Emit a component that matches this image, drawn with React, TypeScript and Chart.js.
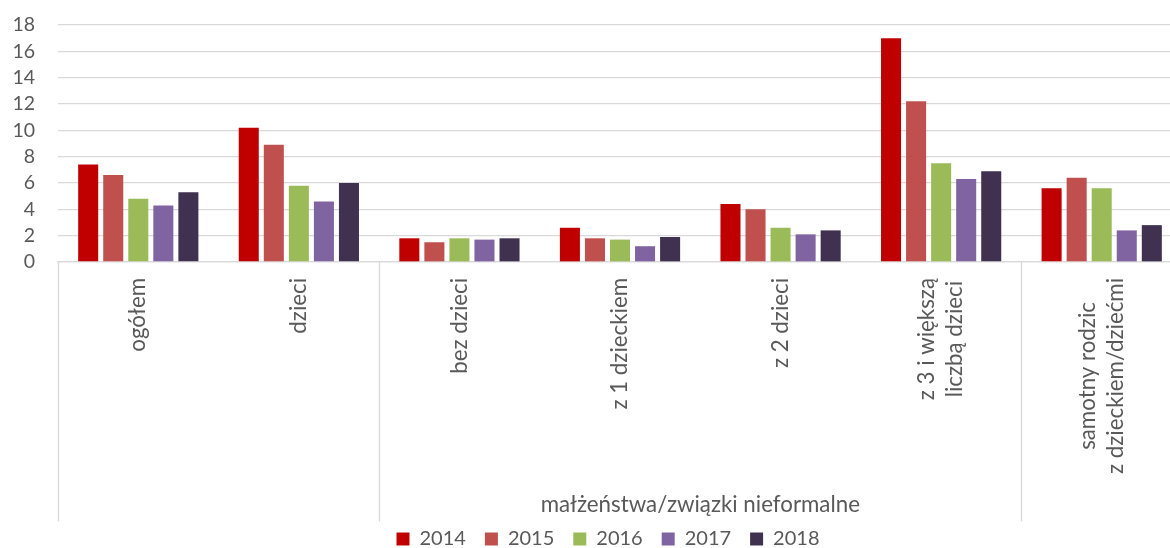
import React, { useEffect, useRef } from "react";
import { Chart, registerables } from "chart.js";

Chart.register(...registerables);

const categories: string[][] = [
  ["ogółem"],
  ["dzieci"],
  ["bez dzieci"],
  ["z 1 dzieckiem"],
  ["z 2 dzieci"],
  ["z 3 i większą", "liczbą dzieci"],
  ["samotny rodzic", "z dzieckiem/dziećmi"],
];
const seriesNames = ["2014", "2015", "2016", "2017", "2018"];
const values2014 = [7.4, 10.2, 1.8, 2.6, 4.4, 17.0, 5.6];
const values2015 = [6.6, 8.9, 1.5, 1.8, 4.0, 12.2, 6.4];
const values2016 = [4.8, 5.8, 1.8, 1.7, 2.6, 7.5, 5.6];
const values2017 = [4.3, 4.6, 1.7, 1.2, 2.1, 6.3, 2.4];
const values2018 = [5.3, 6.0, 1.8, 1.9, 2.4, 6.9, 2.8];
const seriesColors = ["#C00000", "#C0504D", "#9BBB59", "#8064A2", "#403151"];
const yMin = 0;
const yMax = 18;
const yStep = 2;
// category indices where a vertical separator is drawn below the axis
const groupBoundaries = [0, 2, 6];
const groupLabel = "małżeństwa/związki nieformalne";
const groupLabelFrom = 2;
const groupLabelTo = 6;

const FONT = "Lato, 'Open Sans', sans-serif";
const TEXT = "#595959";
const LINE = "#d9d9d9";
const LABEL_SIZE = 22.3;

const groupPlugin = {
  id: "groupPlugin",
  afterLayout(chart: any) {
    // nudge the legend to the right, as in the reference
    if (chart.legend) {
      chart.legend.left += 17;
      chart.legend.right += 17;
    }
  },
  afterDraw(chart: any) {
    const { ctx, chartArea } = chart;
    const x = chart.scales.x;
    const step = x.getPixelForValue(1) - x.getPixelForValue(0);
    const edge = (i: number) => x.getPixelForValue(i) - step / 2;
    const lineBottom = 521.5;
    ctx.save();
    ctx.strokeStyle = LINE;
    ctx.lineWidth = 1.3;
    groupBoundaries.forEach((b) => {
      const px = Math.round(edge(b)) + 0.5;
      ctx.beginPath();
      ctx.moveTo(px, chartArea.bottom);
      ctx.lineTo(px, lineBottom);
      ctx.stroke();
    });

    ctx.fillStyle = TEXT;
    ctx.font = `${LABEL_SIZE}px ${FONT}`;
    ctx.textAlign = "center";
    ctx.textBaseline = "middle";

    // rotated category labels, lines centred on each other
    const lineGap = 28;
    categories.forEach((lines, i) => {
      const cx = x.getPixelForValue(i);
      const maxW = Math.max(...lines.map((l) => ctx.measureText(l).width));
      const cy = chartArea.bottom + 16 + maxW / 2;
      lines.forEach((line, j) => {
        const lx = cx + (j - (lines.length - 1) / 2) * lineGap;
        ctx.save();
        ctx.translate(lx, cy);
        ctx.rotate(-Math.PI / 2);
        ctx.fillText(line, 0, 0);
        ctx.restore();
      });
    });

    const gx = (edge(groupLabelFrom) + edge(groupLabelTo)) / 2;
    ctx.fillText(groupLabel, gx, 505);
    ctx.restore();
  },
};

export default function App() {
  const ref = useRef<HTMLCanvasElement | null>(null);
  useEffect(() => {
    if (!ref.current) return;
    const allValues = [values2014, values2015, values2016, values2017, values2018];
    const chart = new Chart(ref.current, {
      type: "bar",
      data: {
        labels: categories.map((c) => c.join(" ")),
        datasets: seriesNames.map((name, i) => ({
          label: name,
          data: allValues[i],
          backgroundColor: seriesColors[i],
          borderWidth: 0,
          categoryPercentage: 0.78,
          barPercentage: 0.8,
        })),
      },
      options: {
        animation: false,
        responsive: true,
        maintainAspectRatio: false,
        layout: { padding: { top: 25, left: 0, right: 0, bottom: 0 } },
        plugins: {
          tooltip: { enabled: false },
          legend: {
            position: "bottom",
            labels: {
              boxWidth: 13,
              boxHeight: 13,
              padding: 19,
              color: TEXT,
              font: { family: FONT, size: 20 },
            },
          },
        },
        scales: {
          y: {
            min: yMin,
            max: yMax,
            ticks: {
              stepSize: yStep,
              autoSkip: false,
              color: TEXT,
              padding: 23,
              font: { family: FONT, size: 19.5 },
            },
            grid: { color: LINE, lineWidth: 1.3, drawTicks: false },
            border: { display: false },
            afterFit: (s: any) => {
              s.width = 58;
              s.paddingTop = 0;
              s.paddingBottom = 0;
            },
          },
          x: {
            ticks: { display: false },
            grid: { display: false, drawTicks: false },
            border: { display: true, color: LINE, width: 1.3 },
            afterFit: (s: any) => {
              const lh = s.chart.legend ? s.chart.legend.height : 40;
              s.height = s.chart.height - lh - 262;
            },
          },
        },
      },
      plugins: [groupPlugin],
    });
    return () => chart.destroy();
  }, []);
  return (
    <div
      style={{
        position: "absolute",
        left: 0,
        top: 0,
        width: 1170,
        height: 548,
        overflow: "hidden",
        background: "#fff",
      }}
    >
      <div style={{ position: "relative", width: 1182, height: 559 }}>
        <canvas ref={ref} />
      </div>
    </div>
  );
}
